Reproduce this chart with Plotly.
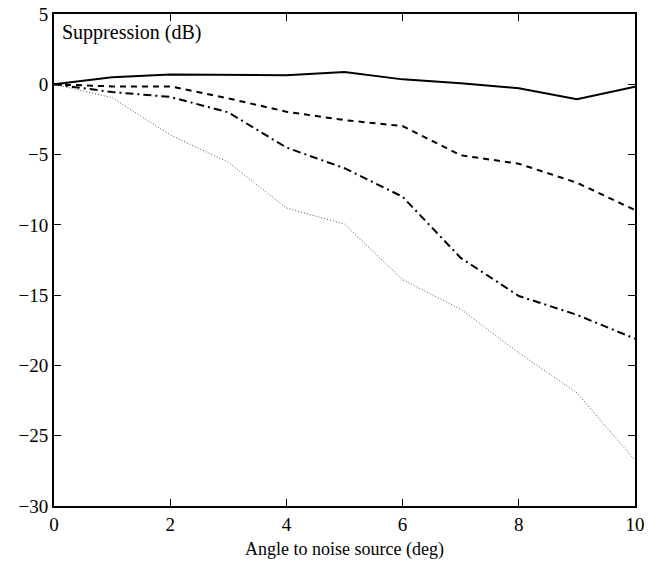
import plotly.graph_objects as go

angle = [0, 1, 2, 3, 4, 5, 6, 7, 8, 9, 10]
solid_vals = [0, 0.5, 0.7, 0.7, 0.65, 0.88, 0.35, 0.08, -0.28, -1.07, -0.17]
dashed_vals = [0, -0.15, -0.15, -1.0, -1.95, -2.55, -2.97, -5.05, -5.65, -7.0, -8.95]
dashdot_vals = [0, -0.55, -0.9, -2.0, -4.5, -5.97, -8.0, -12.35, -15.06, -16.4, -18.1]
dotted_vals = [0, -0.95, -3.6, -5.55, -8.8, -9.95, -13.9, -16.0, -19.1, -21.95, -26.75]

x_ticks = [0, 2, 4, 6, 8, 10]
y_ticks = [5, 0, -5, -10, -15, -20, -25, -30]

fig = go.Figure()
fig.add_trace(go.Scatter(x=angle, y=solid_vals, mode="lines",
                         line=dict(color="black", width=2, dash="solid")))
fig.add_trace(go.Scatter(x=angle, y=dashed_vals, mode="lines",
                         line=dict(color="black", width=2, dash="6px,5px")))
fig.add_trace(go.Scatter(x=angle, y=dashdot_vals, mode="lines",
                         line=dict(color="black", width=2, dash="8px,4px,2px,4px")))
fig.add_trace(go.Scatter(x=angle, y=dotted_vals, mode="lines",
                         line=dict(color="#555555", width=1, dash="1px,2px")))

axis_common = dict(
    showgrid=False, zeroline=False, showline=True, linecolor="black", linewidth=2,
    mirror="ticks", ticks="inside", ticklen=7, tickwidth=1, tickcolor="black",
    automargin=False,
    tickfont=dict(family="Liberation Serif", size=19, color="black"),
)

fig.update_xaxes(range=[0, 10], tickvals=x_ticks,
                 title=dict(text="Angle to noise source (deg)",
                            font=dict(family="Liberation Serif", size=18, color="black"),
                            standoff=9),
                 **axis_common)
fig.update_yaxes(range=[-30, 5], tickvals=y_ticks, **axis_common)

fig.add_annotation(text="Suppression (dB)", xref="paper", yref="paper",
                   x=0.011, y=0.99, xanchor="left", yanchor="top", showarrow=False,
                   font=dict(family="Liberation Serif", size=20, color="black"))

fig.update_layout(
    width=648, height=570, showlegend=False,
    plot_bgcolor="white", paper_bgcolor="white",
    margin=dict(l=54, r=13, t=14, b=64),
)

fig.write_html("out.html", config={"displayModeBar": False},
               post_script="document.body.style.margin='0';document.body.style.overflow='hidden';")
